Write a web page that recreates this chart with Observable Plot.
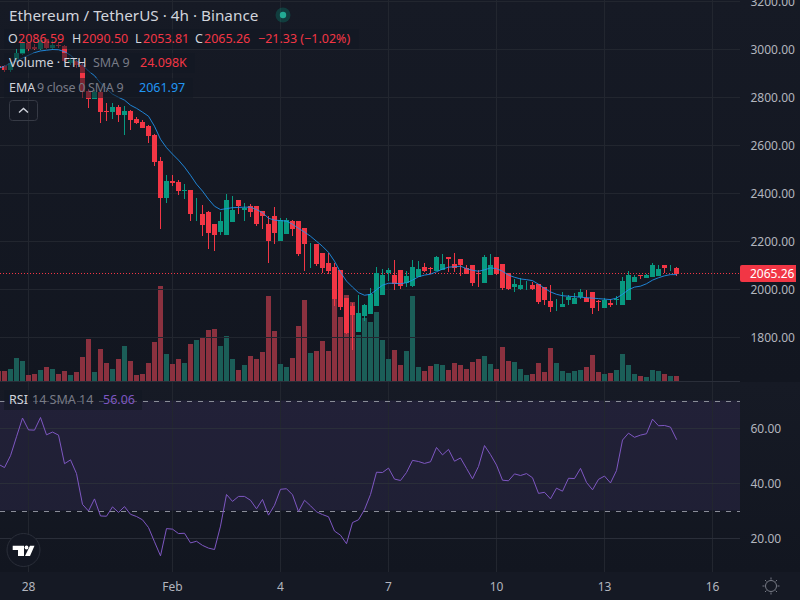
<!DOCTYPE html>
<html>
<head>
<meta charset="utf-8">
<script src="https://cdn.jsdelivr.net/npm/d3@7"></script>
<script src="https://cdn.jsdelivr.net/npm/@observablehq/plot@0.6"></script>
<style>
  html,body{margin:0;padding:0;background:#131722;}
  #chart{position:relative;width:800px;height:600px;overflow:hidden;font-family:"Noto Sans",sans-serif;
    background:
      linear-gradient(#161a25,#121620) 0 0/100% 382px no-repeat,
      linear-gradient(#161a25,#121620) 0 382px/100% 190px no-repeat,
      #151924;}
  #chart svg.layer{position:absolute;left:0;top:0;}
  .row{position:absolute;left:4px;height:20px;line-height:20px;padding-left:5px;white-space:nowrap;font-size:12.5px;background:rgba(19,23,34,.55);color:#d1d4dc;}
  .row span{position:absolute;top:0;}
  .dim{color:#787b86;}
  .neg{color:#f23645;}
</style>
</head>
<body>
<div id="chart"></div>
<script>
const opens = [2930,2930,2914,2960,2980,3028,3011,3004,3042,3008,3017,3014,2944,2951,2935,2826,2793,2823,2743,2739,2760,2726,2743,2710,2697,2680,2643,2535,2382,2451,2447,2411,2414,2322,2314,2322,2272,2239,2226,2280,2372,2330,2347,2347,2326,2272,2305,2201,2230,2285,2285,2255,2147,2189,2151,2110,2093,2080,1964,1930,1822,1889,1897,1930,1976,2068,2060,2080,2026,2014,2051,2093,2089,2076,2080,2135,2105,2126,2089,2101,2068,2026,2060,2135,2105,2068,2010,2001,2022,2017,2022,2010,1951,1955,1926,1955,1939,1968,1964,1989,1951,1922,1943,1955,1935,1955,2030,2060,2047,2051,2055,2101,2085,2089,2086.59];
const highs = [2935,2935,2955,3001,3035,3030,3019,3047,3043,3039,3030,3015,2964,2955,2943,2835,2830,2826,2776,2775,2768,2764,2747,2715,2705,2685,2647,2550,2476,2476,2455,2439,2414,2380,2351,2326,2268,2322,2397,2389,2355,2360,2355,2335,2326,2305,2343,2297,2297,2289,2264,2197,2193,2176,2126,2151,2110,2018,1947,1943,1976,1939,2005,2093,2085,2089,2122,2035,2076,2122,2118,2110,2093,2139,2147,2130,2151,2105,2101,2068,2080,2143,2147,2126,2076,2030,2043,2047,2035,2030,2010,1964,2018,1960,1989,1976,1985,2001,1997,1955,1955,1964,1960,1972,2051,2076,2060,2060,2064,2110,2101,2093,2101,2090.5];
const lows = [2914,2905,2905,2947,2976,2993,2997,2997,3001,2997,3004,2947,2935,2922,2797,2755,2790,2692,2698,2710,2694,2640,2664,2688,2671,2608,2511,2251,2357,2430,2393,2376,2285,2285,2222,2168,2160,2226,2276,2330,2314,2285,2301,2264,2251,2110,2189,2226,2255,2222,2139,2076,2089,2097,2068,2064,1930,1914,1814,1747,1889,1868,1918,1972,2043,2035,1997,2001,2010,2010,2076,2072,2064,2076,2097,2072,2072,2055,2064,2014,2010,2047,2093,2060,1997,1997,1989,1997,1997,1997,1939,1935,1905,1910,1926,1935,1951,1960,1947,1897,1910,1930,1926,1935,1955,2030,2039,2043,2051,2055,2064,2068,2076,2053.81];
const closes = [2922,2914,2942,2985,3028,3001,3004,3039,3008,3019,3013,2953,2955,2935,2823,2793,2823,2740,2738,2760,2726,2743,2705,2694,2675,2640,2532,2382,2451,2443,2410,2414,2314,2322,2268,2235,2226,2285,2372,2330,2347,2339,2322,2272,2305,2201,2235,2288,2288,2251,2147,2189,2147,2105,2089,2076,1960,1926,1819,1893,1901,1935,1980,2068,2060,2080,2022,2014,2055,2093,2085,2076,2085,2135,2105,2126,2089,2101,2064,2026,2064,2135,2101,2064,2005,2001,2022,2017,2022,2004,1947,1955,1926,1955,1939,1968,1964,1989,1947,1922,1947,1955,1935,1960,2035,2060,2051,2055,2060,2101,2085,2089,2085,2065.26];
const volumes = [48,48,58,110,96,29,34,53,67,58,34,48,29,43,115,202,43,154,86,58,106,168,96,29,34,86,187,456,130,82,106,86,178,197,211,245,250,168,216,106,53,77,120,106,139,408,240,82,67,110,264,389,134,144,192,144,439,307,413,379,221,302,283,331,197,106,149,77,144,410,67,48,72,82,77,53,86,77,58,91,106,120,82,58,163,96,91,58,29,34,86,43,158,86,48,38,48,53,67,125,43,34,38,53,130,77,34,24,19,53,48,34,24,24.098];
const ema = [2922,2930,2943,2953,2964,2976,2987,2994,2997,3000,2999,2991,2976,2953,2935,2910,2891,2860,2837,2814,2801,2789,2768,2755,2739,2722,2680,2626,2591,2564,2539,2510,2476,2439,2410,2376,2347,2333,2337,2341,2342,2343,2343,2333,2320,2297,2289,2287,2285,2272,2255,2239,2222,2201,2180,2155,2118,2072,2035,2010,1987,1976,1980,1999,2018,2026,2026,2024,2028,2039,2053,2060,2064,2074,2085,2093,2095,2097,2087,2080,2076,2082,2090,2087,2076,2060,2051,2044,2041,2037,2022,2005,1990,1980,1974,1972,1970,1968,1966,1964,1962,1960,1958,1964,1980,1999,2010,2014,2024,2039,2049,2057,2062,2061.97];
const rsi = [47.0,45.8,50.1,57.0,63.8,59.5,59.4,64.0,57.7,58.7,57.6,47.2,48.6,43.6,32.4,30.0,34.4,28.2,28.1,31.5,29.5,31.6,28.8,28.0,26.8,24.0,18.8,13.7,23.6,23.4,21.8,21.9,18.4,19.0,17.5,16.5,16.0,24.5,36.0,33.5,35.3,35.3,33.9,30.8,34.2,28.5,32.1,37.9,38.1,35.9,29.8,33.9,31.9,29.7,28.7,27.9,22.7,21.2,18.1,25.8,26.8,30.5,36.0,44.1,44.0,45.6,41.6,41.1,44.0,48.4,48.0,47.3,47.9,53.1,50.4,52.4,48.1,49.3,45.5,41.7,46.2,53.8,50.5,46.7,41.2,41.0,43.5,42.9,43.6,42.1,36.4,36.8,34.4,38.3,37.2,41.9,41.8,45.5,40.4,37.7,41.5,42.7,40.2,44.7,55.8,58.3,56.8,57.6,58.1,63.4,61.0,61.1,60.5,56.06];

const priceTicks = [1800,2000,2200,2400,2600,2800,3000,3200];
const rsiTicks = [20,40,60];
const rsiBands = [30,70];
const dateTicks = ["2026-01-28","2026-02-01","2026-02-04","2026-02-07","2026-02-10","2026-02-13","2026-02-16"].map(s=>new Date(s+"T00:00:00Z"));
const dateLabels = ["28","Feb","4","7","10","13","16"];
const lastClose = closes[closes.length-1];

const HOUR = 36e5, BAR = 4*HOUR;
const t0 = Date.UTC(2026,0,28);
const table = closes.map((c,i)=>({
  date:new Date(t0+(i-5)*BAR), open:opens[i], high:highs[i], low:lows[i], close:c,
  volume:volumes[i], ema:ema[i], rsi:rsi[i], up:c>=opens[i]
}));
const half = 2.4/6*BAR;
const left = d=>new Date(+d.date-half), right = d=>new Date(+d.date+half);

const UP="#089981", DOWN="#f23645", VUP="#1b5e58", VDOWN="#8b313f", GRID="#22262f", TXT="#b2b5be";
const FONT='"Noto Sans",sans-serif';

function frame(y, marks){
  const p = Plot.plot({
    width:800, height:600, marginLeft:0, marginRight:60, marginTop:0, marginBottom:28,
    axis:null,
    style:{background:"transparent",fontFamily:FONT,fontSize:"11px",position:"absolute",left:0,top:0,maxWidth:"none"},
    x:{type:"utc",domain:[new Date(t0-28/6*BAR),new Date(t0+712/6*BAR)],axis:null},
    y:{...y,axis:null},
    marks
  });
  p.setAttribute("class",(p.getAttribute("class")||"")+" layer");
  return p;
}

const chart=document.getElementById("chart");

// RSI pane, vertical grid and time axis
chart.append(frame({domain:[20,60],range:[538,428]},[
  Plot.rect([0],{y1:()=>30,y2:()=>70,fill:"#7e57c2",fillOpacity:.12}),
  Plot.ruleX(dateTicks,{stroke:GRID,shapeRendering:"crispEdges"}),
  Plot.ruleY(rsiTicks,{stroke:"#2a2e39",shapeRendering:"crispEdges"}),
  Plot.ruleY(rsiBands,{stroke:"#8a8d98",strokeDasharray:"5,6",shapeRendering:"crispEdges"}),
  Plot.line(table,{x:"date",y:"rsi",stroke:"#7e57c2",strokeWidth:1,curve:"linear"}),
  Plot.axisY({ticks:rsiTicks,anchor:"right",tickSize:0,tickPadding:10,dy:1,color:TXT,label:null,tickFormat:d=>d.toFixed(2),fontSize:12}),
  Plot.axisX({ticks:dateTicks,anchor:"bottom",tickSize:0,tickPadding:10,color:TXT,label:null,tickFormat:(d,i)=>dateLabels[i],fontSize:12})
]));

// Volume pane
chart.append(frame({domain:[0,480],range:[381,281]},[
  Plot.ruleY([0],{stroke:"#2a2e39",shapeRendering:"crispEdges"}),
  Plot.rect(table,{filter:d=>d.up,x1:left,x2:right,y1:()=>0,y2:"volume",dx:.5,fill:VUP,shapeRendering:"crispEdges"}),
  Plot.rect(table,{filter:d=>!d.up,x1:left,x2:right,y1:()=>0,y2:"volume",dx:.5,fill:VDOWN,shapeRendering:"crispEdges"})
]));

// Price pane
chart.append(frame({domain:[1800,3200],range:[337,1]},[
  Plot.ruleY(priceTicks,{stroke:GRID,shapeRendering:"crispEdges"}),
  Plot.ruleY([lastClose],{stroke:DOWN,strokeDasharray:"1,2",shapeRendering:"crispEdges"}),
  Plot.ruleX(table,{filter:d=>d.up,x:"date",y1:"low",y2:"high",stroke:UP,strokeWidth:1,shapeRendering:"crispEdges"}),
  Plot.ruleX(table,{filter:d=>!d.up,x:"date",y1:"low",y2:"high",stroke:DOWN,strokeWidth:1,shapeRendering:"crispEdges"}),
  Plot.rect(table,{filter:d=>d.up,x1:left,x2:right,y1:"open",y2:"close",dx:.5,dy:.5,fill:UP,shapeRendering:"crispEdges"}),
  Plot.rect(table,{filter:d=>!d.up,x1:left,x2:right,y1:"open",y2:"close",dx:.5,dy:.5,fill:DOWN,shapeRendering:"crispEdges"}),
  Plot.line(table,{x:"date",y:"ema",stroke:"#2196f3",strokeWidth:1,strokeOpacity:.85,curve:"linear"}),
  Plot.axisY({ticks:priceTicks,anchor:"right",tickSize:0,tickPadding:10,dy:1,color:TXT,label:null,tickFormat:d=>d.toFixed(2),fontSize:12})
]));

// Legend and overlay furniture
function el(html){const t=document.createElement("template");t.innerHTML=html.trim();chart.append(t.content.firstChild);}
el(`<div style="position:absolute;left:9px;top:4px;font-size:15.3px;line-height:22px;color:#d1d4dc;white-space:nowrap">Ethereum / TetherUS · 4h · Binance</div>`);
el(`<svg style="position:absolute;left:273px;top:5px" width="20" height="20"><circle cx="10" cy="10" r="7.5" fill="#089981" opacity=".28"/><circle cx="10" cy="10" r="3.2" fill="#22ab94"/></svg>`);
el(`<div class="row" style="top:29px;width:350px"><span style="left:4px">O</span><span class="neg" style="left:14px">2086.59</span><span style="left:68px">H</span><span class="neg" style="left:78px">2090.50</span><span style="left:131px">L</span><span class="neg" style="left:139px">2053.81</span><span style="left:191px">C</span><span class="neg" style="left:200px">2065.26</span><span class="neg" style="left:254px">−21.33 (−1.02%)</span></div>`);
el(`<div class="row" style="top:53px;width:186px"><span style="left:5px">Volume · ETH</span><span class="dim" style="left:89px">SMA 9</span><span class="neg" style="left:136px">24.098K</span></div>`);
el(`<div class="row" style="top:78px;width:184px"><span style="left:5px">EMA</span><span class="dim" style="left:33px;letter-spacing:-.28px">9 close 0 SMA 9</span><span style="left:135px;color:#2196f3">2061.97</span></div>`);
el(`<svg style="position:absolute;left:9px;top:100px" width="29" height="21"><rect x=".5" y=".5" width="28" height="20" rx="3" fill="none" stroke="#363a45"/><path d="M10 12.5 L14.5 8.5 L19 12.5" fill="none" stroke="#d1d4dc" stroke-width="1.4"/></svg>`);
el(`<div class="row" style="top:390px;width:133px"><span style="left:5px">RSI</span><span class="dim" style="left:28px">14 SMA 14</span><span style="left:99px;color:#7e57c2">56.06</span></div>`);
el(`<svg style="position:absolute;left:6px;top:533px" width="36" height="34"><circle cx="17.5" cy="17" r="16.5" fill="#131722" stroke="#2a2e39"/><path d="M6.7 12.7 H18 V23 H12 V17 H6.7 Z M24 12.7 H28.5 L24 23 H19 Z" fill="#fff"/><circle cx="20.5" cy="14.5" r="1.9" fill="#fff"/></svg>`);
el(`<svg style="position:absolute;left:760px;top:576px" width="22" height="20"><g fill="none" stroke="#787b86"><circle cx="11" cy="10" r="5.5"/><path d="M11 1.5V3.5M11 16.5V18.5M2.5 10H4.5M17.5 10H19.5M5 4L6.4 5.4M15.6 14.6L17 16M17 4L15.6 5.4M6.4 14.6L5 16"/></g></svg>`);
el(`<div style="position:absolute;left:740px;top:265px;width:56px;height:17px;line-height:17px;background:${DOWN};border-radius:2px 0 0 2px;color:#fff;font-size:12px;text-indent:10px">${lastClose.toFixed(2)}</div>`);
</script>
</body>
</html>
